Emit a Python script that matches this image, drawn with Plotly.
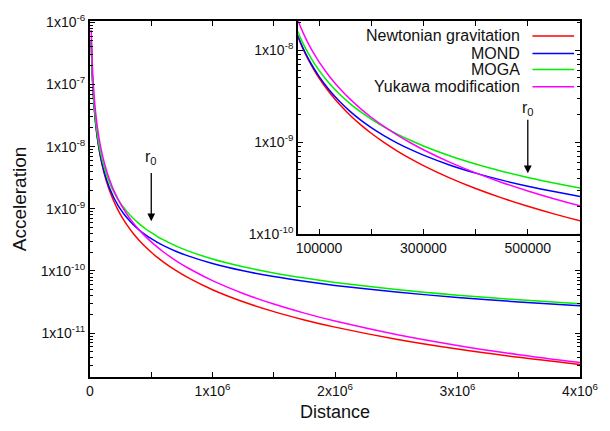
import plotly.graph_objects as go

# ---------------- data ----------------
distance = [1e4, 2e4, 3e4, 4e4, 5e4, 6e4, 7e4, 8e4, 9e4, 1e5, 1.2e5, 1.4e5, 1.6e5, 1.8e5,
            2e5, 2.25e5, 2.5e5, 2.75e5, 3e5, 3.5e5, 4e5, 4.5e5, 5e5, 5.5e5, 6e5, 7e5, 8e5,
            1e6, 1.25e6, 1.5e6, 1.75e6, 2e6, 2.5e6, 3e6, 3.5e6, 4e6]

newtonian = [5.0e-7, 1.25e-7, 5.556e-8, 3.125e-8, 2.0e-8, 1.389e-8, 1.020e-8, 7.813e-9, 6.173e-9,
             5.0e-9, 3.472e-9, 2.551e-9, 1.953e-9, 1.543e-9, 1.25e-9, 9.877e-10, 8.0e-10,
             6.612e-10, 5.556e-10, 4.082e-10, 3.125e-10, 2.469e-10, 2.0e-10, 1.653e-10,
             1.389e-10, 1.020e-10, 7.813e-11, 5.0e-11, 3.2e-11, 2.222e-11, 1.633e-11,
             1.25e-11, 8.0e-12, 5.556e-12, 4.082e-12, 3.125e-12]

mond = [5.002e-7, 1.252e-7, 5.577e-8, 3.147e-8, 2.021e-8, 1.410e-8, 1.042e-8, 8.023e-9, 6.382e-9,
        5.207e-9, 3.676e-9, 2.751e-9, 2.150e-9, 1.735e-9, 1.438e-9, 1.170e-9, 9.769e-10,
        8.327e-10, 7.218e-10, 5.644e-10, 4.594e-10, 3.853e-10, 3.307e-10, 2.889e-10,
        2.561e-10, 2.080e-10, 1.747e-10, 1.319e-10, 1.007e-10, 8.128e-11, 6.811e-11,
        5.859e-11, 4.576e-11, 3.753e-11, 3.180e-11, 2.759e-11]

moga = [5.106e-7, 1.303e-7, 5.909e-8, 3.390e-8, 2.212e-8, 1.566e-8, 1.171e-8, 9.138e-9, 7.351e-9,
        6.060e-9, 4.355e-9, 3.308e-9, 2.616e-9, 2.132e-9, 1.780e-9, 1.459e-9, 1.224e-9,
        1.047e-9, 9.089e-10, 7.111e-10, 5.775e-10, 4.825e-10, 4.120e-10, 3.580e-10,
        3.156e-10, 2.534e-10, 2.106e-10, 1.560e-10, 1.168e-10, 9.289e-11, 7.690e-11,
        6.550e-11, 5.040e-11, 4.089e-11, 3.437e-11, 2.963e-11]

yukawa = [7.500e-7, 1.875e-7, 8.333e-8, 4.687e-8, 2.999e-8, 2.083e-8, 1.530e-8, 1.171e-8, 9.251e-9,
          7.492e-9, 5.200e-9, 3.819e-9, 2.922e-9, 2.307e-9, 1.867e-9, 1.474e-9, 1.192e-9,
          9.843e-10, 8.260e-10, 6.052e-10, 4.618e-10, 3.636e-10, 2.934e-10, 2.415e-10,
          2.021e-10, 1.471e-10, 1.116e-10, 6.992e-11, 4.353e-11, 2.938e-11, 2.100e-11,
          1.565e-11, 9.536e-12, 6.354e-12, 4.515e-12, 3.367e-12]

series_names = ["Newtonian gravitation", "MOND", "MOGA", "Yukawa modification"]
series_values = [newtonian, mond, moga, yukawa]
series_colors = ["#ff0000", "#0000ff", "#00ee00", "#ff00ff"]

main_x_ticks = [0, 1e6, 2e6, 3e6, 4e6]
main_x_labels = ["0", "1x10<sup>6</sup>", "2x10<sup>6</sup>", "3x10<sup>6</sup>", "4x10<sup>6</sup>"]
main_x_minor = [5e5, 1.5e6, 2.5e6, 3.5e6]
main_y_ticks = [1e-11, 1e-10, 1e-9, 1e-8, 1e-7, 1e-6]
main_y_labels = ["1x10<sup>-11</sup>", "1x10<sup>-10</sup>", "1x10<sup>-9</sup>",
                 "1x10<sup>-8</sup>", "1x10<sup>-7</sup>", "1x10<sup>-6</sup>"]
inset_x_ticks = [1e5, 2e5, 3e5, 4e5, 5e5]
inset_x_labels = ["100000", "", "300000", "", "500000"]
inset_y_ticks = [1e-10, 1e-9, 1e-8]
inset_y_labels = ["1x10<sup>-10</sup>", "1x10<sup>-9</sup>", "1x10<sup>-8</sup>"]
r0 = 5e5

minor_log = [k * 10.0 ** e for e in range(-12, -6) for k in range(2, 10)]

FONT = "Liberation Sans, Arial, Helvetica, sans-serif"

fig = go.Figure()
for name, vals, col in zip(series_names, series_values, series_colors):
    fig.add_trace(go.Scatter(x=distance, y=vals, mode="lines", name=name,
                             line=dict(color=col, width=1.5, shape="spline", smoothing=0.8),
                             xaxis="x", yaxis="y", showlegend=False))
for name, vals, col in zip(series_names, series_values, series_colors):
    fig.add_trace(go.Scatter(x=distance, y=vals, mode="lines", name=name,
                             line=dict(color=col, width=1.5, shape="spline", smoothing=0.8),
                             xaxis="x2", yaxis="y2", showlegend=False))

axis_common = dict(showline=True, linecolor="black", mirror="allticks", ticks="inside",
                   tickcolor="black", showgrid=False, zeroline=False,
                   tickfont=dict(family=FONT, size=14, color="#111"))

fig.update_layout(
    width=610, height=431,
    margin=dict(l=90, r=24, t=16, b=42),
    paper_bgcolor="white", plot_bgcolor="white",
    font=dict(family=FONT, color="#111"),
    xaxis=dict(domain=[0, 1], range=[0, 4e6], tickmode="array", tickvals=main_x_ticks,
               ticktext=main_x_labels, ticklen=5, tickwidth=1.2, linewidth=2,
               minor=dict(tickmode="array", tickvals=main_x_minor, ticks="inside", ticklen=5,
                          tickwidth=1.2, tickcolor="black"),
               title=dict(text="Distance", font=dict(family=FONT, size=18), standoff=8),
               anchor="y", **axis_common),
    yaxis=dict(domain=[0, 1], type="log", range=[-11.705, -5.98], tickmode="array",
               tickvals=main_y_ticks, ticktext=main_y_labels, ticklen=5, tickwidth=1.2,
               linewidth=2,
               minor=dict(tickmode="array", tickvals=minor_log, ticks="inside", ticklen=3,
                          tickwidth=1, tickcolor="black"),
               title=dict(text="Acceleration", font=dict(family=FONT, size=19), standoff=9),
               anchor="x", **axis_common),
    xaxis2=dict(domain=[0.4248, 1], range=[60000, 600000], tickmode="array",
                tickvals=inset_x_ticks, ticktext=inset_x_labels, ticklen=5, tickwidth=1.2,
                linewidth=2, anchor="y2", **axis_common),
    yaxis2=dict(domain=[0.402, 1], type="log", range=[-10, -7.68], tickmode="array",
                tickvals=inset_y_ticks, ticktext=inset_y_labels, ticklen=5, tickwidth=1.2,
                linewidth=2,
                minor=dict(tickmode="array", tickvals=minor_log, ticks="inside", ticklen=3,
                           tickwidth=1, tickcolor="black"),
                anchor="x2", **axis_common),
)

# r0 arrows and labels
fig.add_annotation(x=r0, y=-9.2, ax=r0, ay=-8.40, xref="x", yref="y", axref="x", ayref="y",
                   text="", showarrow=True, arrowhead=2, arrowsize=1.2, arrowwidth=1.3,
                   arrowcolor="black")
fig.add_annotation(x=r0, y=-8.17, xref="x", yref="y", text="r<sub>0</sub>", showarrow=False,
                   font=dict(family=FONT, size=16, color="#111"))
fig.add_annotation(x=r0, y=-9.34, ax=r0, ay=-8.74, xref="x2", yref="y2", axref="x2", ayref="y2",
                   text="", showarrow=True, arrowhead=2, arrowsize=1.2, arrowwidth=1.3,
                   arrowcolor="black")
fig.add_annotation(x=r0, y=-8.63, xref="x2", yref="y2", text="r<sub>0</sub>", showarrow=False,
                   font=dict(family=FONT, size=16, color="#111"))

# legend (gnuplot style: text right-aligned, sample line on the right)
legend_rows_y = [0.958, 0.909, 0.864, 0.815]
for name, col, yy in zip(series_names, series_colors, legend_rows_y):
    fig.add_annotation(x=0.881, y=yy, xref="paper", yref="paper", text=name, showarrow=False,
                       xanchor="right", yanchor="middle",
                       font=dict(family=FONT, size=16, color="#111"))
    fig.add_shape(type="line", xref="paper", yref="paper", x0=0.903, x1=0.988, y0=yy, y1=yy,
                  line=dict(color=col, width=1.5))

fig.write_html("out.html")
